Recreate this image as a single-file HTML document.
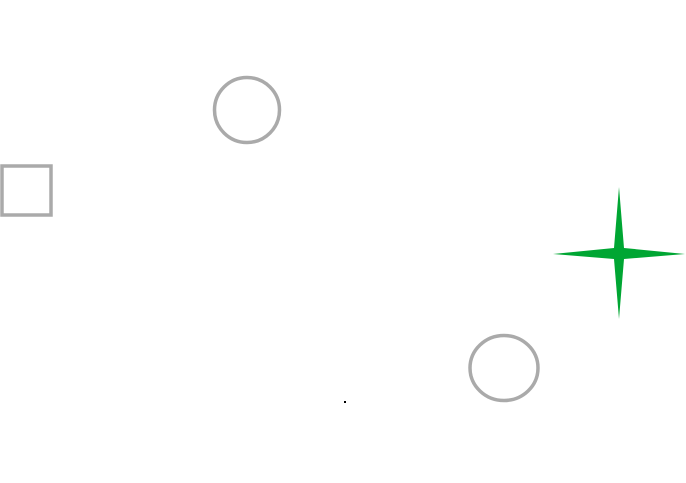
<!DOCTYPE html>
<html><head><meta charset="utf-8"><style>html,body{margin:0;padding:0;background:#fff;width:686px;height:483px;overflow:hidden}</style></head>
<body>
<svg width="686" height="483" viewBox="0 0 686 483" xmlns="http://www.w3.org/2000/svg">
<circle cx="247" cy="110" r="32.5" fill="none" stroke="#aaaaaa" stroke-width="3.5"/>
<rect x="2" y="166" width="49" height="49" fill="none" stroke="#aaaaaa" stroke-width="3.5"/>
<path d="M619,187 L624,248 L685,254 L624,259 L619,319 L614,259 L553,254 L614,248 Z" fill="#00a633"/>
<ellipse cx="504" cy="368" rx="34" ry="32.5" fill="none" stroke="#aaaaaa" stroke-width="3.5"/>
<rect x="344" y="401" width="2" height="2" fill="#000"/>
</svg>
</body></html>
